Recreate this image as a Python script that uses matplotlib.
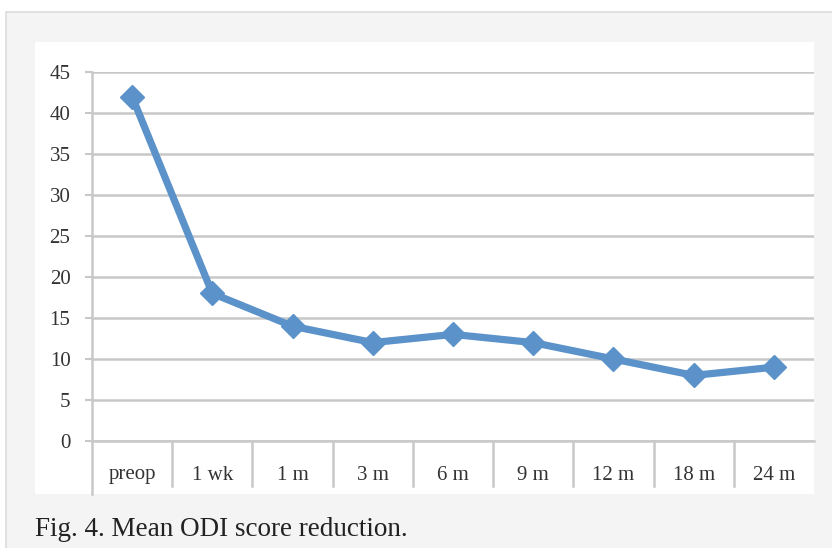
import matplotlib.pyplot as plt
import matplotlib.patches as patches
import matplotlib.transforms as mtransforms

categories = ['preop', '1 wk', '1 m', '3 m', '6 m', '9 m', '12 m', '18 m', '24 m']
odi_scores = [42, 18, 14, 12, 13, 12, 10, 8, 9]
y_ticks = [0, 5, 10, 15, 20, 25, 30, 35, 40, 45]
caption = 'Fig. 4. Mean ODI score reduction.'

W, H = 832, 548
fig = plt.figure(figsize=(W / 100, H / 100), dpi=100)
fig.patch.set_facecolor('white')

def fx(px):
    return px / W

def fy(py):
    return 1 - py / H

# grey frame and white chart area
fig.patches.append(patches.Rectangle((fx(6), fy(560)), fx(840) - fx(6), fy(12) - fy(560),
                                     transform=fig.transFigure, facecolor='#f4f4f4',
                                     edgecolor='#dcdcdc', linewidth=1.2, zorder=-2))
fig.patches.append(patches.Rectangle((fx(35), fy(494)), fx(814) - fx(35), fy(42) - fy(494),
                                     transform=fig.transFigure, facecolor='white',
                                     edgecolor='none', zorder=-1))

ax = fig.add_axes([fx(92), fy(441), fx(814) - fx(92), fy(72) - fy(441)])
ax.set_facecolor('none')

x = list(range(len(categories)))
ax.plot(x, odi_scores, color='#5b92c9', linewidth=5.2, marker='D', markersize=12,
        markeredgecolor='#5b92c9', solid_joinstyle='round', zorder=3, clip_on=False)

ax.set_xlim(-0.5, len(categories) - 0.5)
ax.set_ylim(0, 45)
ax.set_yticks(y_ticks)
ax.yaxis.grid(True, color='#c8c8c8', linewidth=1.8)
ax.set_axisbelow(True)

gfont = dict(family='Liberation Serif', size=15, color='#333333')
ax.set_yticklabels([str(v) for v in y_ticks], fontdict=gfont)
ax.tick_params(axis='y', length=5, width=1.5, color='#c8c8c8', pad=10.5)
ax.set_xticks([])

for side in ['top', 'right', 'bottom']:
    ax.spines[side].set_visible(False)
ax.spines['left'].set_color('#c8c8c8')
ax.spines['left'].set_linewidth(1.8)
ax.spines['left'].set_bounds(0, 45)

# category separators and labels below the axis
trans = mtransforms.blended_transform_factory(ax.transData, ax.transAxes)
for i in range(len(categories)):
    if i < len(categories) - 1:
        ax.plot([i + 0.5, i + 0.5], [0, -45 / 369], transform=trans, color='#c8c8c8',
                linewidth=1.8, clip_on=False)
    ax.text(i, -34 / 369, categories[i], transform=trans, ha='center', va='center',
            **gfont)
ax.plot([-0.5, -0.5], [0, -53 / 369], transform=trans, color='#c8c8c8',
        linewidth=1.8, clip_on=False)
ax.plot([-0.5, len(categories) - 0.5], [0, 0], transform=trans, color='#c8c8c8',
        linewidth=1.8, clip_on=False)

fig.text(fx(35), fy(530), caption, ha='left', va='center',
         family='Liberation Serif', size=19.5, color='#222222')

fig.savefig('out.png', dpi=100)
